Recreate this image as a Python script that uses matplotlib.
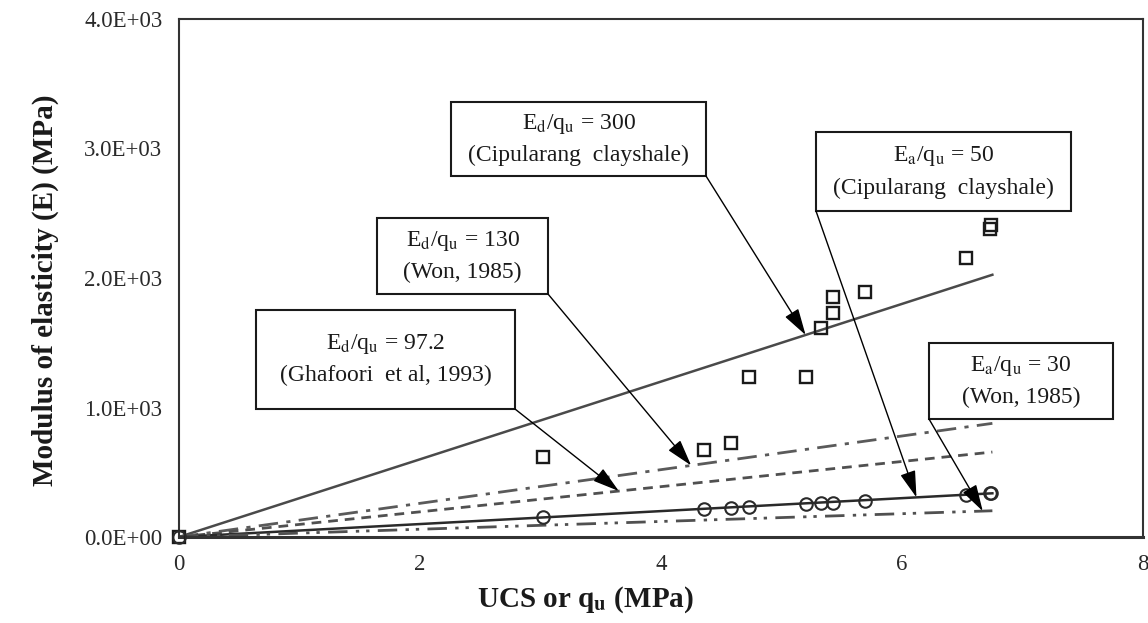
import matplotlib
matplotlib.use("Agg")
import matplotlib.pyplot as plt
from matplotlib.patches import Rectangle
from matplotlib.ticker import FuncFormatter

plt.rcParams['font.family'] = ['Liberation Serif', 'DejaVu Serif']
plt.rcParams['mathtext.fontset'] = 'stix'

# ---- data ----
ucs_d = [0, 3.02, 4.36, 4.58, 4.73, 5.20, 5.33, 5.43, 5.43, 5.69, 6.53, 6.73, 6.74]
E_d = [0, 615, 672, 728, 1233, 1233, 1612, 1727, 1851, 1892, 2152, 2380, 2410]
ucs_a = [0, 3.02, 4.36, 4.58, 4.73, 5.20, 5.33, 5.43, 5.69, 6.53, 6.73, 6.74]
E_a = [0, 157, 214, 224, 234, 255, 260, 265, 280, 324, 337, 340]

fit_x = [0, 6.75]
ratios = [300, 130, 97.2, 50, 30]
ratio_labels = [
    "E$_\\mathrm{d}$/q$_\\mathrm{u}$ = 300\n(Cipularang  clayshale)",
    "E$_\\mathrm{d}$/q$_\\mathrm{u}$ = 130\n(Won, 1985)",
    "E$_\\mathrm{d}$/q$_\\mathrm{u}$ = 97.2\n(Ghafoori  et al, 1993)",
    "E$_\\mathrm{a}$/q$_\\mathrm{u}$ = 50\n(Cipularang  clayshale)",
    "E$_\\mathrm{a}$/q$_\\mathrm{u}$ = 30\n(Won, 1985)",
]
arrow_x = [5.2, 4.25, 3.65, 6.12, 6.67]

x_ticks = [0, 2, 4, 6, 8]
y_ticks = [0, 1000, 2000, 3000, 4000]

# ---- figure ----
fig = plt.figure(figsize=(11.48, 6.23), dpi=100)
ax = fig.add_axes([179/1148, 86/623, (1143-179)/1148, (537-19)/623])
ax.set_xlim(0, 8)
ax.set_ylim(0, 4000)

styles = [
    dict(color='#4a4a4a', lw=1.8, ls='-'),
    dict(color='#5a5a5a', lw=2.0, ls=(0, (7, 3, 1.5, 3))),
    dict(color='#505050', lw=2.0, ls=(0, (3.5, 2.5))),
    dict(color='#2a2a2a', lw=1.8, ls='-'),
    dict(color='#505050', lw=2.0, ls=(0, (7, 3, 1.2, 2.5, 1.2, 3))),
]
for r, st in zip(ratios, styles):
    ax.plot(fit_x, [r * v for v in fit_x], zorder=2, **st)

ax.plot(ucs_d, E_d, ls='none', marker='s', ms=8.5, mfc='none', mec='#1a1a1a', mew=1.7,
        zorder=3, clip_on=False)
ax.plot(ucs_a, E_a, ls='none', marker='o', ms=9, mfc='none', mec='#2a2a2a', mew=1.5,
        zorder=3, clip_on=False)

# annotation boxes (pixel-based layout converted to data units)
def px2d(px, py):
    return (px - 179) / 120.5, (537 - py) / 0.1295

boxes_px = [
    (451, 102, 706, 176),
    (377, 218, 548, 294),
    (256, 310, 515, 409),
    (816, 132, 1071, 211),
    (929, 343, 1113, 419),
]
corner = ['br', 'br', 'br', 'bl', 'bl']
for (x0, y0, x1, y1), lab, r, ax_x, c in zip(boxes_px, ratio_labels, ratios, arrow_x, corner):
    dx0, dy1 = px2d(x0, y0)
    dx1, dy0 = px2d(x1, y1)
    ax.add_patch(Rectangle((dx0, dy0), dx1 - dx0, dy1 - dy0, facecolor='white',
                           edgecolor='#1a1a1a', lw=1.5, zorder=4))
    ax.text((dx0 + dx1) / 2, (dy0 + dy1) / 2, lab, ha='center', va='center',
            fontsize=17, color='#1a1a1a', linespacing=1.55, zorder=5)
    start = (dx1, dy0) if c == 'br' else (dx0, dy0)
    ax.annotate('', xy=(ax_x, r * ax_x), xytext=start,
                arrowprops=dict(arrowstyle='-|>,head_length=0.75,head_width=0.22',
                                mutation_scale=22, lw=1.0,
                                color='black', shrinkA=0, shrinkB=0),
                zorder=6)

ax.set_xticks(x_ticks)
ax.set_yticks(y_ticks)
ax.yaxis.set_major_formatter(FuncFormatter(lambda v, p: f"{v:.1E}"))
ax.tick_params(length=0, labelsize=16.5, colors='#2a2a2a', pad=12)
for s in ax.spines.values():
    s.set_color('#333333')
    s.set_linewidth(1.5)
ax.spines['bottom'].set_linewidth(2.2)

fig.text(45/1148, 1 - 290/623, "Modulus of elasticity (E) (MPa)", rotation=90,
         ha='center', va='center', fontsize=21, fontweight='bold', color='#1a1a1a')
fig.text(585/1148, 1 - 600/623, "UCS or q$_{\\mathbf{u}}$ (MPa)", ha='center', va='center',
         fontsize=21, fontweight='bold', color='#1a1a1a')

fig.savefig('out.png', dpi=100)
